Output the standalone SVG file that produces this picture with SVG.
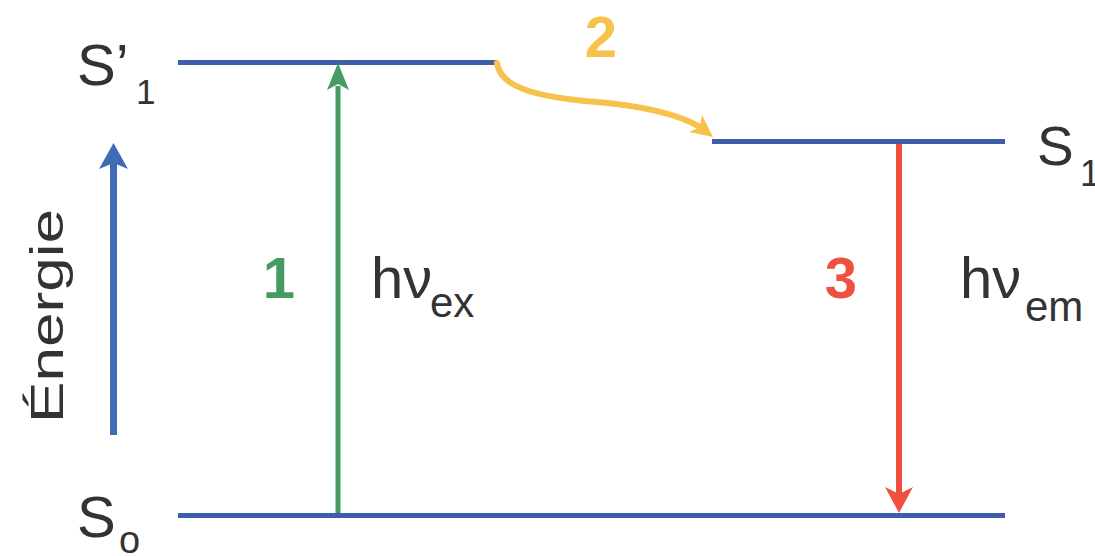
<svg xmlns="http://www.w3.org/2000/svg" width="1095" height="556" viewBox="0 0 1095 556">
<style>
.bg{fill:#ffffff}
.level{stroke:#3d5ea8;stroke-width:5;fill:none}
.lbl{font-family:"Liberation Sans",Arial,sans-serif;fill:#333333}
.num{font-family:"Liberation Sans",Arial,sans-serif;font-weight:bold}
.green{fill:#449b63}
.greenS{stroke:#449b63;stroke-width:5;fill:none}
.red{fill:#f0503f}
.redS{stroke:#f0503f;stroke-width:6;fill:none}
.yellow{fill:#f6c24c}
.yellowS{stroke:#f6c24c;stroke-width:6;fill:none;stroke-linecap:round}
.blue{fill:#3f6cb4}
.blueS{stroke:#3f6cb4;stroke-width:7;fill:none}
</style>
<rect class="bg" x="0" y="0" width="1095" height="556"/>

<g id="energy-axis">
  <line class="blueS" x1="113.5" y1="435" x2="113.5" y2="160"/>
  <polygon class="blue" points="113.5,143 128,169 113.5,163 99,169"/>
  <text class="lbl" x="63" y="316" font-size="47" text-anchor="middle" textLength="214" lengthAdjust="spacingAndGlyphs" transform="rotate(-90 63 316)">Énergie</text>
</g>

<g id="level-S1prime">
  <line class="level" x1="178" y1="62.5" x2="497" y2="62.5"/>
  <text class="lbl" x="77" y="85" font-size="58">S’</text>
  <text class="lbl" x="136" y="104" font-size="35">1</text>
</g>

<g id="level-S1">
  <line class="level" x1="712" y1="141.5" x2="1005" y2="141.5"/>
  <text class="lbl" x="1037" y="165" font-size="55">S</text>
  <text class="lbl" x="1080" y="186" font-size="36">1</text>
</g>

<g id="level-S0">
  <line class="level" x1="178" y1="515.5" x2="1005" y2="515.5"/>
  <text class="lbl" x="77" y="537" font-size="58">S</text>
  <text class="lbl" x="119" y="553" font-size="38">o</text>
</g>

<g id="connectors">
  <g id="transition-1">
    <line class="greenS" x1="338" y1="513" x2="338" y2="86"/>
    <polygon class="green" points="338,63 349,90 338,84 327,90"/>
    <text class="num green" x="279" y="298" font-size="58" text-anchor="middle">1</text>
    <text class="lbl" x="371" y="298" font-size="58">hν</text>
    <text class="lbl" x="430" y="317" font-size="42">ex</text>
  </g>
  <g id="transition-2">
    <path class="yellowS" d="M497,63 C500,86 532,97 597,102 C642,106 676,113 700,127"/>
    <polygon class="yellow" points="713,137 689,132 700,127 702,115"/>
    <text class="num yellow" x="601" y="57" font-size="58" text-anchor="middle">2</text>
  </g>
  <g id="transition-3">
    <line class="redS" x1="899" y1="144" x2="899" y2="496"/>
    <polygon class="red" points="899,513 913,487 899,494 885,487"/>
    <text class="num red" x="841" y="298" font-size="58" text-anchor="middle">3</text>
    <text class="lbl" x="960" y="298" font-size="58">hν</text>
    <text class="lbl" x="1025" y="321" font-size="42">em</text>
  </g>
</g>
</svg>
